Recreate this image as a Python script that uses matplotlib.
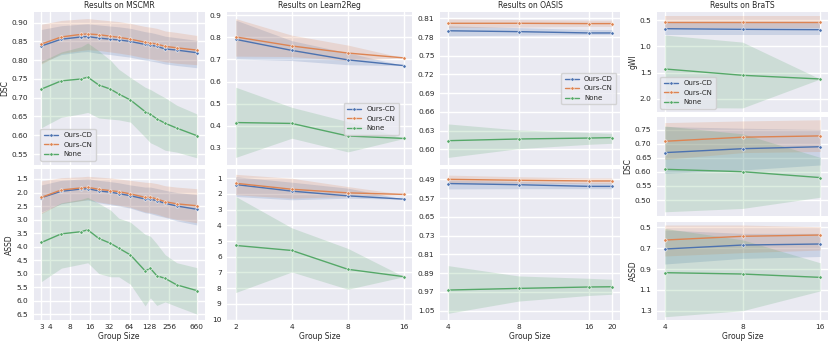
import matplotlib

matplotlib.use("Agg")
import matplotlib.pyplot as plt
import numpy as np
import seaborn as sns
from matplotlib.ticker import NullLocator

sns.set_theme(style="darkgrid")
plt.rcParams["font.family"] = ["DejaVu Sans"]

methods = ["Ours-CD", "Ours-CN", "None"]
colors = sns.color_palette("deep")[:3]

# ---- MSCMR ----
mscmr_x = [3, 6, 12, 15, 22, 33, 44, 66, 110, 132, 165, 220, 330, 660]
mscmr_dsc_cd = [0.838, 0.856, 0.862, 0.863, 0.859, 0.856, 0.854, 0.850, 0.842, 0.840, 0.837, 0.830, 0.827, 0.820]
mscmr_dsc_cd_lo = [0.793, 0.815, 0.822, 0.823, 0.818, 0.815, 0.812, 0.808, 0.800, 0.798, 0.795, 0.790, 0.786, 0.780]
mscmr_dsc_cd_hi = [0.882, 0.892, 0.896, 0.897, 0.894, 0.891, 0.889, 0.885, 0.876, 0.874, 0.870, 0.864, 0.860, 0.853]
mscmr_dsc_cn = [0.843, 0.862, 0.869, 0.870, 0.868, 0.864, 0.861, 0.856, 0.848, 0.846, 0.843, 0.837, 0.833, 0.827]
mscmr_dsc_cn_lo = [0.790, 0.818, 0.826, 0.828, 0.826, 0.822, 0.819, 0.814, 0.806, 0.804, 0.800, 0.796, 0.792, 0.788]
mscmr_dsc_cn_hi = [0.896, 0.906, 0.910, 0.911, 0.908, 0.905, 0.903, 0.898, 0.890, 0.888, 0.885, 0.878, 0.874, 0.866]
mscmr_dsc_none = [0.723, 0.745, 0.750, 0.755, 0.734, 0.723, 0.710, 0.694, 0.663, 0.656, 0.644, 0.632, 0.619, 0.599]
mscmr_dsc_none_lo = [0.620, 0.648, 0.657, 0.661, 0.646, 0.643, 0.641, 0.635, 0.595, 0.580, 0.572, 0.560, 0.555, 0.540]
mscmr_dsc_none_hi = [0.797, 0.822, 0.836, 0.846, 0.825, 0.800, 0.776, 0.754, 0.728, 0.722, 0.712, 0.700, 0.680, 0.657]

mscmr_assd_cd = [2.19, 1.955, 1.87, 1.86, 1.94, 1.99, 2.04, 2.12, 2.24, 2.25, 2.30, 2.40, 2.50, 2.62]
mscmr_assd_cd_lo = [1.72, 1.55, 1.50, 1.49, 1.55, 1.60, 1.64, 1.72, 1.80, 1.80, 1.85, 1.92, 2.00, 2.08]
mscmr_assd_cd_hi = [2.72, 2.42, 2.30, 2.28, 2.38, 2.45, 2.50, 2.58, 2.75, 2.78, 2.85, 2.92, 3.05, 3.20]
mscmr_assd_cn = [2.18, 1.906, 1.83, 1.81, 1.88, 1.93, 1.97, 2.05, 2.18, 2.17, 2.24, 2.34, 2.42, 2.49]
mscmr_assd_cn_lo = [1.57, 1.45, 1.42, 1.40, 1.43, 1.46, 1.50, 1.55, 1.62, 1.63, 1.67, 1.75, 1.80, 1.86]
mscmr_assd_cn_hi = [2.78, 2.40, 2.30, 2.25, 2.35, 2.42, 2.47, 2.55, 2.72, 2.75, 2.80, 2.90, 3.00, 3.12]
mscmr_assd_none = [3.85, 3.53, 3.45, 3.38, 3.70, 3.88, 4.06, 4.31, 4.90, 4.81, 5.08, 5.18, 5.42, 5.63]
mscmr_assd_none_lo = [2.75, 2.38, 2.25, 2.18, 2.40, 2.65, 2.95, 3.10, 3.55, 3.62, 3.90, 4.30, 4.60, 4.78]
mscmr_assd_none_hi = [5.30, 4.80, 4.65, 4.60, 5.00, 5.12, 5.12, 5.40, 6.20, 5.90, 6.18, 6.05, 6.22, 6.50]

# ---- Learn2Reg ----
l2r_x = [2, 4, 8, 16]
l2r_dsc_cd = [0.791, 0.741, 0.698, 0.672]
l2r_dsc_cd_lo = [0.702, 0.695, 0.676, 0.672]
l2r_dsc_cd_hi = [0.878, 0.785, 0.730, 0.672]
l2r_dsc_cn = [0.802, 0.761, 0.729, 0.707]
l2r_dsc_cn_lo = [0.715, 0.713, 0.695, 0.707]
l2r_dsc_cn_hi = [0.885, 0.810, 0.765, 0.707]
l2r_dsc_none = [0.414, 0.410, 0.353, 0.342]
l2r_dsc_none_lo = [0.256, 0.343, 0.281, 0.342]
l2r_dsc_none_hi = [0.574, 0.483, 0.418, 0.342]

l2r_assd_cd = [1.40, 1.82, 2.12, 2.33]
l2r_assd_cd_lo = [0.90, 1.25, 1.63, 2.33]
l2r_assd_cd_hi = [2.16, 2.37, 2.27, 2.33]
l2r_assd_cn = [1.32, 1.70, 1.93, 2.03]
l2r_assd_cn_lo = [0.75, 1.00, 1.53, 2.03]
l2r_assd_cn_hi = [2.05, 2.27, 2.16, 2.03]
l2r_assd_none = [5.28, 5.60, 6.80, 7.27]
l2r_assd_none_lo = [2.16, 4.16, 5.47, 7.27]
l2r_assd_none_hi = [8.28, 6.97, 8.07, 7.27]

# ---- OASIS ----
oasis_x = [4, 8, 16, 20]
oasis_dsc_cd = [0.790, 0.7886, 0.7865, 0.7865]
oasis_dsc_cd_lo = [0.782, 0.783, 0.784, 0.784]
oasis_dsc_cd_hi = [0.798, 0.795, 0.792, 0.792]
oasis_dsc_cn = [0.802, 0.802, 0.8015, 0.8015]
oasis_dsc_cn_lo = [0.795, 0.796, 0.797, 0.797]
oasis_dsc_cn_hi = [0.809, 0.808, 0.807, 0.807]
oasis_dsc_none = [0.6138, 0.6165, 0.618, 0.6187]
oasis_dsc_none_lo = [0.587, 0.601, 0.608, 0.6096]
oasis_dsc_none_hi = [0.6406, 0.631, 0.627, 0.6256]

oasis_assd_cd = [0.508, 0.513, 0.520, 0.520]
oasis_assd_cd_lo = [0.493, 0.499, 0.505, 0.505]
oasis_assd_cd_hi = [0.531, 0.530, 0.530, 0.530]
oasis_assd_cn = [0.490, 0.494, 0.497, 0.497]
oasis_assd_cn_lo = [0.472, 0.479, 0.484, 0.484]
oasis_assd_cn_hi = [0.507, 0.507, 0.508, 0.508]
oasis_assd_none = [0.962, 0.955, 0.949, 0.948]
oasis_assd_none_lo = [0.858, 0.902, 0.912, 0.916]
oasis_assd_none_hi = [1.061, 1.009, 0.985, 0.980]

# ---- BraTS ----
brats_x = [4, 8, 16]
brats_gwi_cd = [0.665, 0.677, 0.684]
brats_gwi_cd_lo = [0.55, 0.55, 0.55]
brats_gwi_cd_hi = [0.79, 0.79, 0.79]
brats_gwi_cn = [0.545, 0.545, 0.545]
brats_gwi_cn_lo = [0.42, 0.42, 0.42]
brats_gwi_cn_hi = [0.66, 0.66, 0.66]
brats_gwi_none = [1.43, 1.55, 1.62]
brats_gwi_none_lo = [0.785, 0.92, 1.62]
brats_gwi_none_hi = [2.16, 2.17, 1.62]

brats_dsc_cd = [0.669, 0.683, 0.690]
brats_dsc_cd_lo = [0.595, 0.607, 0.625]
brats_dsc_cd_hi = [0.762, 0.756, 0.752]
brats_dsc_cn = [0.7095, 0.724, 0.7286]
brats_dsc_cn_lo = [0.645, 0.669, 0.673]
brats_dsc_cn_hi = [0.776, 0.782, 0.786]
brats_dsc_none = [0.6095, 0.601, 0.580]
brats_dsc_none_lo = [0.458, 0.470, 0.510]
brats_dsc_none_hi = [0.764, 0.736, 0.652]

brats_assd_cd = [0.708, 0.670, 0.660]
brats_assd_cd_lo = [0.526, 0.558, 0.558]
brats_assd_cd_hi = [0.852, 0.798, 0.780]
brats_assd_cn = [0.622, 0.586, 0.574]
brats_assd_cn_lo = [0.478, 0.478, 0.494]
brats_assd_cn_hi = [0.775, 0.743, 0.718]
brats_assd_none = [0.935, 0.948, 0.980]
brats_assd_none_lo = [0.51, 0.62, 0.84]
brats_assd_none_hi = [1.358, 1.30, 1.11]

FIG_W, FIG_H = 830, 346
TICK_FS = 5.3
LABEL_FS = 5.5


def add_axes_px(fig, left, top, right, bottom):
    return fig.add_axes([left / FIG_W, 1 - bottom / FIG_H,
                         (right - left) / FIG_W, (bottom - top) / FIG_H])


def _fmt(ticks):
    decimals = max(len(f"{t:g}".split(".")[1]) if "." in f"{t:g}" else 0 for t in ticks)
    return [f"{t:.{decimals}f}" for t in ticks]


def draw_panel(ax, x, series, yticks, ylim, xticks=None, show_x=True):
    for (mean, lo, hi), color, name in zip(series, colors, methods):
        ax.fill_between(x, lo, hi, color=color, alpha=0.2, linewidth=0)
        ax.plot(x, mean, color=color, linewidth=1.0, marker="o", markersize=2.4,
                markeredgecolor="white", markeredgewidth=0.4, label=name)
    ax.set_xscale("log", base=2)
    xticks = xticks if xticks is not None else x
    ax.set_xticks(xticks)
    ax.xaxis.set_minor_locator(NullLocator())
    ax.set_xticklabels([str(t) for t in xticks] if show_x else [])
    ax.set_yticks(yticks)
    ax.set_yticklabels(_fmt(yticks))
    ax.set_ylim(*ylim)
    # invisible ticks still add their length to the label pad, so zero it
    ax.tick_params(axis="y", labelsize=TICK_FS, length=0, pad=4)
    ax.tick_params(axis="x", labelsize=TICK_FS, length=0, pad=3)
    for spine in ax.spines.values():
        spine.set_visible(False)


def set_labels(ax, ylabel=None, xlabel=False):
    if ylabel:
        ax.set_ylabel(ylabel, fontsize=LABEL_FS, labelpad=1.5)
    if xlabel:
        ax.set_xlabel("Group Size", fontsize=LABEL_FS, labelpad=1)


def add_legend(ax, **kw):
    ax.legend(fontsize=5.0, borderpad=0.5, labelspacing=0.5, handlelength=2.0, **kw)


fig = plt.figure(figsize=(FIG_W / 100, FIG_H / 100), dpi=100)

# MSCMR
ax = add_axes_px(fig, 33.6, 12, 204.5, 165)
draw_panel(ax, mscmr_x,
           [(mscmr_dsc_cd, mscmr_dsc_cd_lo, mscmr_dsc_cd_hi),
            (mscmr_dsc_cn, mscmr_dsc_cn_lo, mscmr_dsc_cn_hi),
            (mscmr_dsc_none, mscmr_dsc_none_lo, mscmr_dsc_none_hi)],
           np.round(np.arange(0.55, 0.901, 0.05), 2), (0.5207, 0.9285),
           xticks=[3, 4, 8, 16, 32, 64, 128, 256, 660], show_x=False)
ax.set_title("Results on MSCMR", fontsize=LABEL_FS, pad=3)
set_labels(ax, "DSC")
add_legend(ax, loc="upper left", bbox_to_anchor=(0.02, 0.26))

ax = add_axes_px(fig, 33.6, 169, 204.5, 320)
draw_panel(ax, mscmr_x,
           [(mscmr_assd_cd, mscmr_assd_cd_lo, mscmr_assd_cd_hi),
            (mscmr_assd_cn, mscmr_assd_cn_lo, mscmr_assd_cn_hi),
            (mscmr_assd_none, mscmr_assd_none_lo, mscmr_assd_none_hi)],
           np.round(np.arange(1.5, 6.51, 0.5), 1), (6.72, 1.13),
           xticks=[3, 4, 8, 16, 32, 64, 128, 256, 660])
set_labels(ax, "ASSD", xlabel=True)

# Learn2Reg
ax = add_axes_px(fig, 227.3, 12, 412.4, 165)
draw_panel(ax, l2r_x,
           [(l2r_dsc_cd, l2r_dsc_cd_lo, l2r_dsc_cd_hi),
            (l2r_dsc_cn, l2r_dsc_cn_lo, l2r_dsc_cn_hi),
            (l2r_dsc_none, l2r_dsc_none_lo, l2r_dsc_none_hi)],
           np.round(np.arange(0.3, 0.91, 0.1), 1), (0.2216, 0.915), show_x=False)
ax.set_title("Results on Learn2Reg", fontsize=LABEL_FS, pad=3)
add_legend(ax, loc="upper left", bbox_to_anchor=(0.61, 0.43))

ax = add_axes_px(fig, 227.3, 169, 412.4, 320)
draw_panel(ax, l2r_x,
           [(l2r_assd_cd, l2r_assd_cd_lo, l2r_assd_cd_hi),
            (l2r_assd_cn, l2r_assd_cn_lo, l2r_assd_cn_hi),
            (l2r_assd_none, l2r_assd_none_lo, l2r_assd_none_hi)],
           list(range(1, 11)), (10.03, 0.41))
set_labels(ax, xlabel=True)

# OASIS
ax = add_axes_px(fig, 440.1, 12, 619.9, 165)
draw_panel(ax, oasis_x,
           [(oasis_dsc_cd, oasis_dsc_cd_lo, oasis_dsc_cd_hi),
            (oasis_dsc_cn, oasis_dsc_cn_lo, oasis_dsc_cn_hi),
            (oasis_dsc_none, oasis_dsc_none_lo, oasis_dsc_none_hi)],
           np.round(np.arange(0.60, 0.811, 0.03), 2), (0.5748, 0.8201), show_x=False)
ax.set_title("Results on OASIS", fontsize=LABEL_FS, pad=3)
add_legend(ax, loc="center right")

ax = add_axes_px(fig, 440.1, 169, 619.9, 320)
draw_panel(ax, oasis_x,
           [(oasis_assd_cd, oasis_assd_cd_lo, oasis_assd_cd_hi),
            (oasis_assd_cn, oasis_assd_cn_lo, oasis_assd_cn_hi),
            (oasis_assd_none, oasis_assd_none_lo, oasis_assd_none_hi)],
           np.round(np.arange(0.49, 1.051, 0.08), 2), (1.0897, 0.446))
set_labels(ax, xlabel=True)

# BraTS
ax = add_axes_px(fig, 657, 12, 828, 112)
draw_panel(ax, brats_x,
           [(brats_gwi_cd, brats_gwi_cd_lo, brats_gwi_cd_hi),
            (brats_gwi_cn, brats_gwi_cn_lo, brats_gwi_cn_hi),
            (brats_gwi_none, brats_gwi_none_lo, brats_gwi_none_hi)],
           [0.5, 1.0, 1.5, 2.0], (2.247, 0.348), show_x=False)
ax.set_title("Results on BraTS", fontsize=LABEL_FS, pad=3)
set_labels(ax, "gWI")
add_legend(ax, loc="lower left")

ax = add_axes_px(fig, 657, 117, 828, 216)
draw_panel(ax, brats_x,
           [(brats_dsc_cd, brats_dsc_cd_lo, brats_dsc_cd_hi),
            (brats_dsc_cn, brats_dsc_cn_lo, brats_dsc_cn_hi),
            (brats_dsc_none, brats_dsc_none_lo, brats_dsc_none_hi)],
           np.round(np.arange(0.50, 0.751, 0.05), 2), (0.443, 0.796), show_x=False)
set_labels(ax, "DSC")

ax = add_axes_px(fig, 657, 222, 828, 320)
draw_panel(ax, brats_x,
           [(brats_assd_cd, brats_assd_cd_lo, brats_assd_cd_hi),
            (brats_assd_cn, brats_assd_cn_lo, brats_assd_cn_hi),
            (brats_assd_none, brats_assd_none_lo, brats_assd_none_hi)],
           np.round(np.arange(0.5, 1.31, 0.2), 1), (1.389, 0.449))
set_labels(ax, "ASSD", xlabel=True)

fig.savefig("out.png", dpi=100)
